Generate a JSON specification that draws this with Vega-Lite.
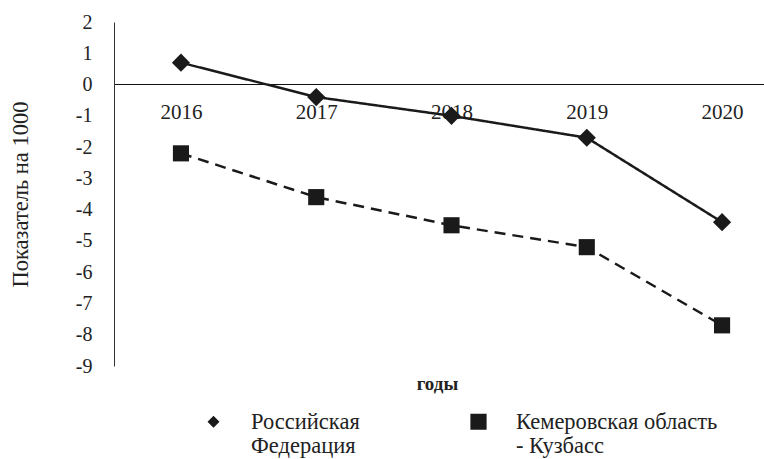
{
  "$schema": "https://vega.github.io/schema/vega-lite/v6.json",
  "width": 650,
  "height": 344,
  "autosize": {"type": "none"},
  "padding": {"left": 114, "top": 22, "right": 0, "bottom": 93},
  "background": "white",
  "config": {
    "view": {"stroke": null},
    "font": "Liberation Serif",
    "legend": {"labelFont": "Liberation Serif"}
  },
  "data": {
    "values": [
      {"year": 2016, "series": "Российская Федерация", "value": 0.7},
      {"year": 2017, "series": "Российская Федерация", "value": -0.4},
      {"year": 2018, "series": "Российская Федерация", "value": -1.0},
      {"year": 2019, "series": "Российская Федерация", "value": -1.7},
      {"year": 2020, "series": "Российская Федерация", "value": -4.4},
      {"year": 2016, "series": "Кемеровская область - Кузбасс", "value": -2.2},
      {"year": 2017, "series": "Кемеровская область - Кузбасс", "value": -3.6},
      {"year": 2018, "series": "Кемеровская область - Кузбасс", "value": -4.5},
      {"year": 2019, "series": "Кемеровская область - Кузбасс", "value": -5.2},
      {"year": 2020, "series": "Кемеровская область - Кузбасс", "value": -7.7}
    ]
  },
  "encoding": {
    "x": {
      "field": "year",
      "type": "quantitative",
      "scale": {"domain": [2015.505, 2020.31], "nice": false, "zero": false},
      "axis": {
        "values": [2016, 2017, 2018, 2019, 2020],
        "format": "d",
        "orient": "bottom",
        "offset": -282,
        "grid": false,
        "ticks": false,
        "domainColor": "#111",
        "labelColor": "#222",
        "labelFontSize": 21,
        "labelPadding": 17,
        "labelFlush": false,
        "labelOverlap": false,
        "title": "годы",
        "titleColor": "#222",
        "titleFontSize": 19,
        "titleFontWeight": "bold",
        "titleX": 323,
        "titleY": 299,
        "titleBaseline": "middle"
      }
    },
    "y": {
      "field": "value",
      "type": "quantitative",
      "scale": {"domain": [-9, 2], "nice": false, "zero": false},
      "axis": {
        "values": [-9, -8, -7, -6, -5, -4, -3, -2, -1, 0, 1, 2],
        "labelExpr": "toString(datum.value)",
        "grid": false,
        "ticks": false,
        "domainColor": "#333",
        "labelColor": "#222",
        "labelFontSize": 20,
        "labelPadding": 22,
        "labelFlush": false,
        "labelOverlap": false,
        "title": "Показатель на 1000",
        "titleColor": "#222",
        "titleFontSize": 22.5,
        "titleFontWeight": "normal",
        "titlePadding": 43
      }
    }
  },
  "resolve": {"scale": {"shape": "independent"}, "legend": {"shape": "independent"}},
  "layer": [
    {
      "mark": {"type": "line", "strokeWidth": 2.5, "color": "#1a1a1a"},
      "encoding": {
        "strokeDash": {
          "field": "series",
          "type": "nominal",
          "scale": {"range": [[11, 7], [1, 0]]},
          "legend": null
        }
      }
    },
    {
      "mark": {"type": "point", "filled": true, "opacity": 1, "color": "#1a1a1a"},
      "encoding": {
        "shape": {
          "field": "series",
          "type": "nominal",
          "scale": {"range": ["square", "diamond"]},
          "legend": null
        },
        "size": {
          "field": "series",
          "type": "nominal",
          "scale": {"range": [260, 330]},
          "legend": null
        }
      }
    },
    {
      "mark": {"type": "point", "filled": true, "opacity": 0, "color": "#1a1a1a", "size": 3600},
      "encoding": {
        "shape": {
          "field": "series",
          "type": "nominal",
          "scale": {
            "domain": ["Российская Федерация", "Кемеровская область - Кузбасс"],
            "range": [
              "M-1,0L1,0M0,-0.2L0.2,0L0,0.2L-0.2,0Z",
              "M-1,0L-0.6,0M0.63,0L1,0M-0.27,-0.27L0.27,-0.27L0.27,0.27L-0.27,0.27Z"
            ]
          },
          "legend": {
            "title": null,
            "orient": "none",
            "legendX": 68,
            "legendY": 368,
            "direction": "horizontal",
            "columns": 2,
            "columnPadding": 83,
            "labelFont": "Liberation Serif",
            "labelFontSize": 22.5,
            "labelColor": "#222",
            "labelOffset": 6,
            "labelLimit": 400,
            "symbolSize": 3600,
            "symbolOpacity": 1,
            "symbolFillColor": "#1a1a1a",
            "symbolStrokeColor": "#1a1a1a",
            "symbolStrokeWidth": 2.5,
            "labelExpr": "datum.value === 'Российская Федерация' ? ['Российская', 'Федерация'] : ['Кемеровская область', '- Кузбасс']",
            "encode": {
              "labels": {"update": {"lineHeight": {"value": 27}, "font": {"value": "Liberation Serif"}}},
              "symbols": {"update": {"stroke": {"value": "#1a1a1a"}, "strokeWidth": {"value": 2.5}, "fill": {"value": "#1a1a1a"}, "opacity": {"value": 1}}}
            }
          }
        }
      }
    }
  ]
}
